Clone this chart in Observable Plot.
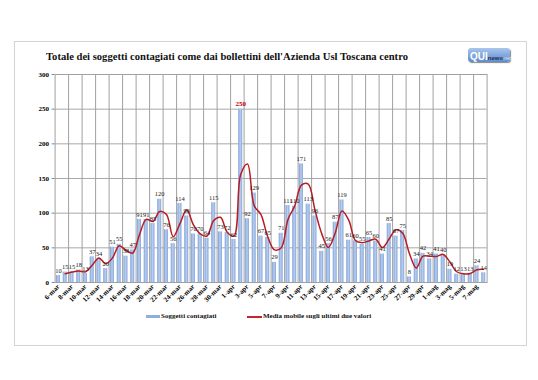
<!DOCTYPE html>
<html><head><meta charset="utf-8">
<script src="https://cdn.jsdelivr.net/npm/d3@7"></script>
<script src="https://cdn.jsdelivr.net/npm/@observablehq/plot@0.6"></script>
<style>
body{margin:0;background:#fff;}
#wrap{position:relative;width:538px;height:380px;overflow:hidden;font-family:"Liberation Serif",serif;}
#box{position:absolute;left:14px;top:41px;width:513px;height:305px;border:1px solid #d4d4d4;box-sizing:border-box;}
#title{position:absolute;left:46px;top:51px;font-weight:bold;font-size:10.6px;color:#111;white-space:nowrap;}
#logo{position:absolute;left:468px;top:48px;width:42px;height:14px;border-radius:3px;background:linear-gradient(#a9c6ee,#5f8ccb);box-shadow:1px 1px 1px #888;white-space:nowrap;line-height:14px;font-family:"Liberation Sans",sans-serif;}
#logo .q{color:#fff;font-weight:bold;font-size:10px;margin-left:2px;}
#logo .n{color:#1b2f5a;font-weight:bold;font-size:6px;}
#logo .t{color:#dbe6f5;font-size:5px;}
#chart{position:absolute;left:0;top:64px;}
#legend{position:absolute;top:312px;left:0;width:538px;font-size:7px;font-weight:bold;color:#111;}
.sw{position:absolute;}
</style></head>
<body><div id="wrap">
<div id="box"></div>
<div id="title">Totale dei soggetti contagiati come dai bollettini dell'Azienda Usl Toscana centro</div>
<div id="logo"><span class="q">QUI</span><span class="n">news</span><span class="t">.net</span></div>
<div id="chart"></div>
<div id="legend">
  <div class="sw" style="left:146px;top:3px;width:14px;height:3px;background:#8eaede;"></div>
  <div class="sw" style="left:161px;top:0px;">Soggetti contagiati</div>
  <div class="sw" style="left:247px;top:4px;width:15px;height:1.5px;background:#c0282d;"></div>
  <div class="sw" style="left:263px;top:0px;">Media mobile sugli ultimi due valori</div>
</div>
</div>
<script>
const days = ["6-mar","7-mar","8-mar","9-mar","10-mar","11-mar","12-mar","13-mar","14-mar","15-mar","16-mar","17-mar","18-mar","19-mar","20-mar","21-mar","22-mar","23-mar","24-mar","25-mar","26-mar","27-mar","28-mar","29-mar","30-mar","31-mar",
"1-apr","2-apr","3-apr","4-apr","5-apr","6-apr","7-apr","8-apr","9-apr","10-apr","11-apr","12-apr","13-apr","14-apr","15-apr","16-apr","17-apr","18-apr","19-apr","20-apr","21-apr","22-apr","23-apr","24-apr","25-apr","26-apr","27-apr","28-apr","29-apr","30-apr",
"1-mag","2-mag","3-mag","4-mag","5-mag","6-mag","7-mag","8-mag"];
const contagiati = [10,15,15,18,13,37,34,20,51,55,38,47,91,91,85,120,76,56,114,96,70,70,64,115,73,72,
62,250,92,129,67,65,29,71,111,110,171,113,96,45,56,87,119,61,60,55,65,60,41,85,67,75,8,34,42,34,
41,40,19,12,13,13,24,14];
const yTicks = [0,50,100,150,200,250,300];
const labelDays = days.filter((d,i)=>i%2===0);
const highlight = "2-apr";

const data = days.map((d,i)=>({day:d, v:contagiati[i]}));
const W = 538, ML = 54.6, MR = 51.4;
const step = (W-ML-MR)/days.length;
const font = "Liberation Serif";

const plot = Plot.plot({
  width: W, height: 248,
  marginTop: 10, marginBottom: 30, marginLeft: ML, marginRight: MR,
  style: {fontFamily: font, background: "transparent", overflow: "visible"},
  x: {type: "band", domain: days, paddingInner: 0.4, paddingOuter: 0.2, axis: null},
  y: {domain: [0,300], axis: null},
  marks: [
    Plot.ruleY(yTicks, {stroke: "#a8a8a8", strokeWidth: 1}),
    Plot.ruleX(labelDays.slice(1), {stroke: "#a0a0a0", strokeWidth: 1, dx: -step/2}),
    Plot.barY(data, {x: "day", y: "v", fill: "url(#bargrad)"}),
    Plot.lineY(data, Plot.windowY({k: 2, anchor: "end", strict: true, reduce: "mean"}, {x: "day", y: "v", stroke: "#b81c22", strokeWidth: 1.5, curve: "catmull-rom"})),
    Plot.text(data.filter(d=>d.day!==highlight), {x: "day", y: "v", text: d=>String(d.v), dy: -5, fontSize: 6.5, fill: "#222"}),
    Plot.text(data.filter(d=>d.day===highlight), {x: "day", y: "v", text: d=>String(d.v), dy: -5, fontSize: 7, fontWeight: "bold", fill: "#c00000"}),
    Plot.axisY({ticks: yTicks, label: null, tickSize: 3, tickPadding: 3, fontSize: 7, fontWeight: "bold", stroke: "#888"}),
    Plot.axisX({ticks: labelDays, label: null, tickRotate: -45, tickSize: 0, tickPadding: 3, fontSize: 7, fontWeight: "bold"}),
    Plot.frame({stroke: "#a0a0a0"})
  ]
});
const svg = d3.select(plot);
const defs = svg.insert("defs", ":first-child");
const g = defs.append("linearGradient").attr("id","bargrad").attr("x1","0").attr("x2","1").attr("y1","0").attr("y2","0");
g.append("stop").attr("offset","0%").attr("stop-color","#7fa2d8");
g.append("stop").attr("offset","50%").attr("stop-color","#b9cdee");
g.append("stop").attr("offset","100%").attr("stop-color","#86a8dc");
document.getElementById("chart").appendChild(plot);
</script>
</body></html>
